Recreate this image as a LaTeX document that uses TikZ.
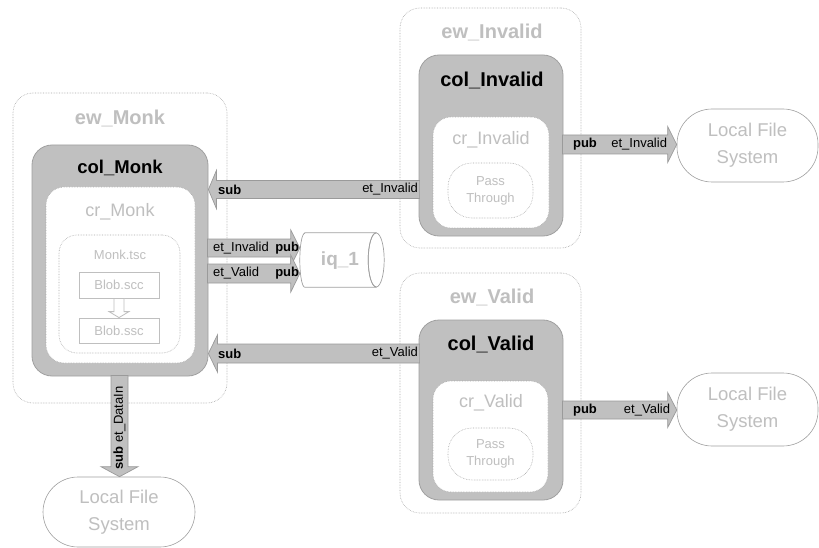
\documentclass[tikz,border=0pt]{standalone}
\usepackage{fontspec}
\setmainfont{Liberation Sans}
\usetikzlibrary{calc}
\definecolor{colfill}{HTML}{C0C0C0}
\definecolor{colline}{HTML}{A0A0A0}
\definecolor{lt}{HTML}{BFBFBF}
\definecolor{dotc}{HTML}{A8A8A8}
\definecolor{arrline}{HTML}{9A9A9A}
\tikzset{
  ewbox/.style={draw=dotc, densely dotted, line width=0.6pt, rounded corners=20pt, fill=white, inner sep=0pt},
  colbox/.style={draw=colline, fill=colfill, line width=0.8pt, rounded corners=20pt, inner sep=0pt},
  crbox/.style={draw=dotc, densely dotted, line width=0.6pt, fill=white, rounded corners=18pt, inner sep=0pt},
  ptbox/.style={draw=dotc, densely dotted, line width=0.6pt, fill=white, rounded corners=24pt, inner sep=0pt,
    text=lt, align=center, font=\fontsize{13}{17}\selectfont},
  blobbox/.style={draw=lt, line width=0.8pt, fill=white, inner sep=0pt, text=lt, font=\fontsize{13}{15}\selectfont},
  lfsbox/.style={draw=colline, line width=0.6pt, fill=white, rounded corners=35pt, inner sep=0pt,
    text=lt, align=center, font=\fontsize{18.5}{27}\selectfont},
  ewtitle/.style={text=lt, font=\fontsize{20}{22}\selectfont\bfseries, inner sep=0pt},
  coltitle/.style={text=black, font=\fontsize{20}{22}\selectfont\bfseries, inner sep=0pt},
  crtitle/.style={text=lt, font=\fontsize{18}{20}\selectfont, inner sep=0pt},
  smalltitle/.style={text=lt, font=\fontsize{13}{15}\selectfont, inner sep=0pt},
  lbl/.style={text=black, font=\fontsize{13}{15}\selectfont, inner sep=0.5pt},
  lblb/.style={text=black, font=\fontsize{13}{15}\selectfont\bfseries, inner sep=0.5pt},
  barrow/.style={fill=colfill, draw=arrline, line width=0.7pt, line join=miter},
  hollowarrow/.style={fill=white, draw=lt, line width=0.8pt, line join=miter},
  cylline/.style={draw=colline, line width=0.7pt},
}
% #1 style, #2 start, #3 tip, #4 half shaft, #5 half head, #6 head length
\newcommand\blockarrow[6][barrow]{%
  \coordinate (hb) at ($(#3)!#6!(#2)$);
  \path[#1] ($(#2)!#4!90:(#3)$) -- ($(hb)!#4!90:(#3)$) -- ($(hb)!#5!90:(#3)$) -- (#3)
    -- ($(hb)!#5!-90:(#3)$) -- ($(hb)!#4!-90:(#3)$) -- ($(#2)!#4!-90:(#3)$) -- cycle;}
\begin{document}
\begin{tikzpicture}[x=1pt,y=-1pt]
\useasboundingbox[fill=white] (0,0) rectangle (819,548);

% ---- Monk
\node[ewbox, minimum width=214pt, minimum height=310pt] (ewMonk) at (120,248) {};
\node[ewtitle] (tEwMonk) at (120,118) {ew\_Monk};
\node[colbox, minimum width=176pt, minimum height=231pt] (colMonk) at (120,260.5) {};
\node[coltitle, font=\fontsize{18.5}{20}\selectfont\bfseries] (tColMonk) at (120,168) {col\_Monk};
\node[crbox, minimum width=149pt, minimum height=176pt] (crMonk) at (120.5,275) {};
\node[crtitle] (tCrMonk) at (120,212) {cr\_Monk};
\node[crbox, minimum width=121pt, minimum height=118pt] (tsc) at (119.5,294) {};
\node[smalltitle] (tTsc) at (120,255) {Monk.tsc};
\node[blobbox, minimum width=80pt, minimum height=26pt] (blobA) at (119,285) {Blob.scc};
\node[blobbox, minimum width=80pt, minimum height=25pt] (blobB) at (119,330.5) {Blob.ssc};
\blockarrow[hollowarrow]{blobA.south}{blobB.north}{5pt}{10pt}{6pt}

% ---- Invalid
\node[ewbox, minimum width=181pt, minimum height=240pt] (ewInvalid) at (490.5,128) {};
\node[ewtitle] (tEwInvalid) at (492,32) {ew\_Invalid};
\node[colbox, minimum width=144pt, minimum height=181pt] (colInvalid) at (491,145.5) {};
\node[coltitle] (tColInvalid) at (492,80) {col\_Invalid};
\node[crbox, minimum width=116pt, minimum height=111pt] (crInvalid) at (491,172.5) {};
\node[crtitle] (tCrInvalid) at (491,140) {cr\_Invalid};
\node[ptbox, minimum width=85pt, minimum height=55pt] (ptInvalid) at (490.5,190.5) {Pass\\Through};

% ---- Valid
\node[ewbox, minimum width=181pt, minimum height=240pt] (ewValid) at (490.5,393) {};
\node[ewtitle] (tEwValid) at (492,297) {ew\_Valid};
\node[colbox, minimum width=144pt, minimum height=180pt] (colValid) at (491,410) {};
\node[coltitle] (tColValid) at (491,344) {col\_Valid};
\node[crbox, minimum width=115pt, minimum height=111pt] (crValid) at (490.5,436.5) {};
\node[crtitle] (tCrValid) at (491,403) {cr\_Valid};
\node[ptbox, minimum width=85pt, minimum height=52pt] (ptValid) at (490.5,454) {Pass\\Through};

% ---- Local File Systems
\node[lfsbox, minimum width=141pt, minimum height=73pt] (lfsA) at (747.5,145.5) {Local File\\System};
\node[lfsbox, minimum width=141pt, minimum height=73pt] (lfsB) at (747.5,409.5) {Local File\\System};
\node[lfsbox, minimum width=152pt, minimum height=70pt] (lfsC) at (119,512) {Local File\\System};

% ---- iq_1 cylinder
\node[minimum width=84pt, minimum height=54pt, inner sep=0pt] (iq) at (342,260) {};
\draw[cylline, fill=white] ([xshift=5pt]iq.north west) -- ([xshift=-8pt]iq.north east)
  -- ([xshift=-8pt]iq.south east) -- ([xshift=5pt]iq.south west)
  arc[start angle=270, end angle=90, x radius=5pt, y radius=27pt] -- cycle;
\draw[cylline, fill=white] ([xshift=-8pt]iq.east) ellipse[x radius=8pt, y radius=27pt];
\path[draw=white, line width=1.2pt] ([xshift=-8pt,yshift=-0.8pt]iq.north east) -- ([xshift=-8pt,yshift=0.8pt]iq.south east);
\draw[cylline] ([xshift=-8pt]iq.north east) arc[start angle=90, end angle=270, x radius=8pt, y radius=27pt];
\node[text=lt, font=\fontsize{19}{21}\selectfont\bfseries, inner sep=0pt] (tIq) at (340,261) {iq\_1};

% ---- arrows
\coordinate (ya) at (0,189.5);
\coordinate (yb) at (0,248);
\coordinate (yc) at (0,273.5);
\coordinate (yd) at (0,353.5);
\coordinate (ye) at (0,144.5);
\coordinate (yf) at (0,410);
\coordinate (xv) at (119.5,0);

% sub et_Invalid
\coordinate (a1s) at ($(colInvalid.west |- ya)+(1,0)$);
\coordinate (a1e) at (colMonk.east |- ya);
\blockarrow{a1s}{a1e}{9pt}{19pt}{8pt}
\node[lblb, anchor=west] (l1a) at ($(a1e)+(9,0)$) {sub};
\node[lbl, anchor=east] (l1b) at ($(a1s)+(-1,0)$) {et\_Invalid};

% pub et_Invalid to iq
\coordinate (a2s) at ($(colMonk.east |- yb)+(-1,0)$);
\coordinate (a2e) at (iq.west |- yb);
\blockarrow{a2s}{a2e}{9pt}{18pt}{9pt}
% pub et_Valid to iq
\coordinate (a3s) at ($(colMonk.east |- yc)+(-1,0)$);
\coordinate (a3e) at (iq.west |- yc);
\blockarrow{a3s}{a3e}{9.5pt}{18.5pt}{9pt}
\node[lbl, anchor=west] (l2a) at ($(a2s)+(5,0)$) {et\_Invalid};
\node[lblb, anchor=east] (l2b) at (a2e) {pub};
\node[lbl, anchor=west] (l3a) at ($(a3s)+(5,0)$) {et\_Valid};
\node[lblb, anchor=east] (l3b) at (a3e) {pub};

% sub et_Valid
\coordinate (a4s) at ($(colValid.west |- yd)+(1,0)$);
\coordinate (a4e) at (colMonk.east |- yd);
\blockarrow{a4s}{a4e}{9.5pt}{18.5pt}{9pt}
\node[lblb, anchor=west] (l4a) at ($(a4e)+(9,0)$) {sub};
\node[lbl, anchor=east] (l4b) at ($(a4s)+(-1,0)$) {et\_Valid};

% pub et_Invalid to LFS
\coordinate (a5s) at ($(colInvalid.east |- ye)+(-1,0)$);
\coordinate (a5e) at (lfsA.west |- ye);
\blockarrow{a5s}{a5e}{9.5pt}{18pt}{9pt}
\node[lblb, anchor=west] (l5a) at ($(a5s)+(10,0)$) {pub};
\node[lbl, anchor=east] (l5b) at ($(a5e)+(-9,0)$) {et\_Invalid};

% pub et_Valid to LFS
\coordinate (a6s) at ($(colValid.east |- yf)+(-1,0)$);
\coordinate (a6e) at (lfsB.west |- yf);
\blockarrow{a6s}{a6e}{9pt}{17.5pt}{9pt}
\node[lblb, anchor=west] (l6a) at ($(a6s)+(10,0)$) {pub};
\node[lbl, anchor=east] (l6b) at ($(a6e)+(-6,0)$) {et\_Valid};

% sub et_DataIn down
\coordinate (a7s) at ($(xv |- colMonk.south)+(0,-1)$);
\coordinate (a7e) at (xv |- lfsC.north);
\blockarrow{a7s}{a7e}{8.5pt}{18.5pt}{10pt}
\node[lbl, rotate=90, anchor=west, inner sep=0pt] (l7) at ($(a7e)+(0,-7)$) {\textbf{sub} et\_DataIn};
\end{tikzpicture}
\end{document}
